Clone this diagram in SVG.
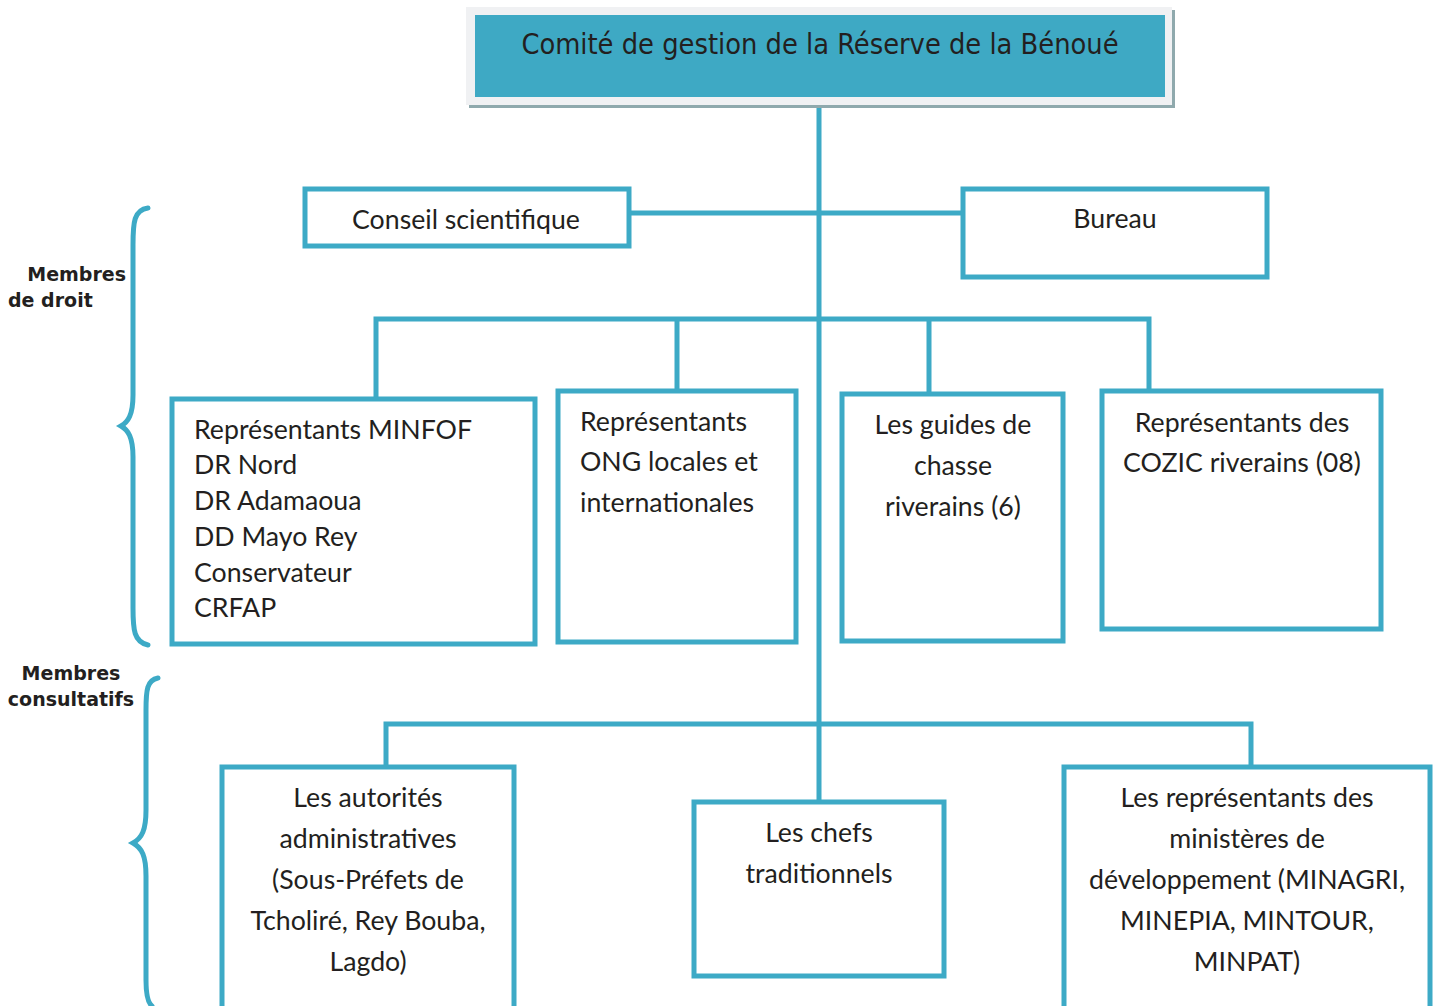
<svg xmlns="http://www.w3.org/2000/svg" width="1439" height="1006" viewBox="0 0 1439 1006">
<style>
.box{fill:#fff;stroke:#3daac6;stroke-width:5}
.ln{fill:none;stroke:#3daac6;stroke-width:5}
.br{fill:none;stroke:#3daac6;stroke-width:5;stroke-linecap:round}
.t{font-family:Lato,"Liberation Sans",sans-serif;font-size:26.7px;fill:#231f20}
.c{text-anchor:middle}
.lb{font-family:"DejaVu Sans",Verdana,sans-serif;font-weight:bold;font-size:19px;fill:#231f20}
</style>
<rect width="1439" height="1006" fill="#fff"/>
<g id="connectors">
<path class="ln" d="M819 108V800"/>
<path class="ln" d="M630 213H961"/>
<path class="ln" d="M376 397V319H1149V389M677 319V389M929 319V392"/>
<path class="ln" d="M386 765V724H1251V765"/>
</g>
<g id="braces">
<path class="br" d="M148 208C134 210 133 222 133 245V395C133 415 128 422 121 426C128 430 133 437 133 457V608C133 630 134 642 148 645"/>
<path class="br" d="M158 678C147 680 146 690 146 710V810C146 830 142 838 133 843C142 848 146 856 146 876V980C146 995 148 1003 152 1006"/>
</g>
<g id="labels">
<text class="lb" x="126" y="281" text-anchor="end">Membres</text>
<text class="lb" x="8" y="307">de droit</text>
<text class="lb" x="71" y="680" text-anchor="middle">Membres</text>
<text class="lb" x="71" y="706" text-anchor="middle">consultatifs</text>
</g>
<g id="title">
<rect x="469" y="10" width="706" height="98" fill="#8fa9ad"/>
<rect x="466" y="7" width="706" height="98" fill="#f0f1f3"/>
<rect x="475" y="15" width="690" height="82" fill="#3ea9c4"/>
<text x="820" y="54" class="c" style="font-family:'DejaVu Sans Condensed','DejaVu Sans',sans-serif;font-size:28.7px;fill:#231f20">Comité de gestion de la Réserve de la Bénoué</text>
</g>
<g id="conseil">
<rect class="box" x="305" y="189" width="324" height="57"/>
<text class="t c" x="466" y="229">Conseil scientifique</text>
</g>
<g id="bureau">
<rect class="box" x="963" y="189" width="304" height="88"/>
<text class="t c" x="1115" y="228">Bureau</text>
</g>
<g id="minfof">
<rect class="box" x="172" y="399" width="363" height="245"/>
<text class="t" x="194" y="439">Représentants MINFOF</text>
<text class="t" x="194" y="474">DR Nord</text>
<text class="t" x="194" y="510">DR Adamaoua</text>
<text class="t" x="194" y="546">DD Mayo Rey</text>
<text class="t" x="194" y="582">Conservateur</text>
<text class="t" x="194" y="617">CRFAP</text>
</g>
<g id="ong">
<rect class="box" x="558" y="391" width="238" height="251"/>
<text class="t" x="580" y="431">Représentants</text>
<text class="t" x="580" y="471">ONG locales et</text>
<text class="t" x="580" y="512">internationales</text>
</g>
<g id="guides">
<rect class="box" x="842" y="394" width="221" height="247"/>
<text class="t c" x="953" y="434">Les guides de</text>
<text class="t c" x="953" y="475">chasse</text>
<text class="t c" x="953" y="516">riverains (6)</text>
</g>
<g id="cozic">
<rect class="box" x="1102" y="391" width="279" height="238"/>
<text class="t c" x="1242" y="432">Représentants des</text>
<text class="t c" x="1242" y="472">COZIC riverains (08)</text>
</g>
<g id="autorites">
<rect class="box" x="222" y="767" width="292" height="250"/>
<text class="t c" x="368" y="807">Les autorités</text>
<text class="t c" x="368" y="848">administratives</text>
<text class="t c" x="368" y="889">(Sous-Préfets de</text>
<text class="t c" x="368" y="930">Tcholiré, Rey Bouba,</text>
<text class="t c" x="368" y="971">Lagdo)</text>
</g>
<g id="chefs">
<rect class="box" x="694" y="802" width="250" height="174"/>
<text class="t c" x="819" y="842">Les chefs</text>
<text class="t c" x="819" y="883">traditionnels</text>
</g>
<g id="ministeres">
<rect class="box" x="1064" y="767" width="366" height="250"/>
<text class="t c" x="1247" y="807">Les représentants des</text>
<text class="t c" x="1247" y="848">ministères de</text>
<text class="t c" x="1247" y="889">développement (MINAGRI,</text>
<text class="t c" x="1247" y="930">MINEPIA, MINTOUR,</text>
<text class="t c" x="1247" y="971">MINPAT)</text>
</g>
</svg>
